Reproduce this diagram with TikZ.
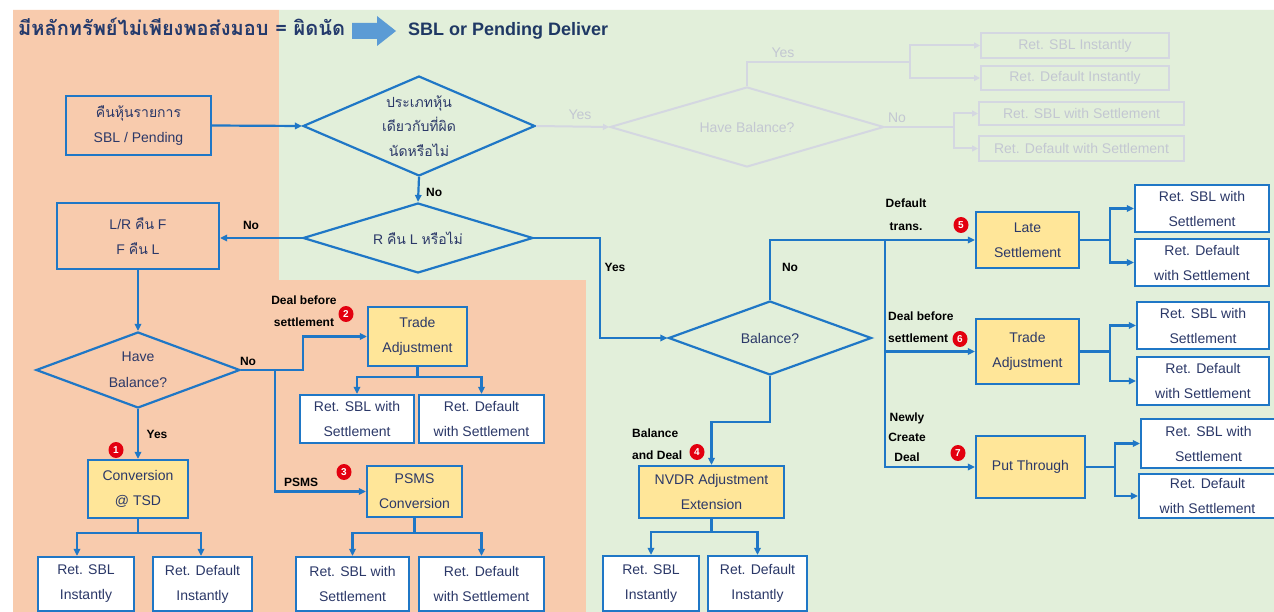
\documentclass[tikz,border=0pt]{standalone}
\usepackage{fontspec}
\setmainfont{Liberation Sans}
\newfontfamily\thai[Script=Thai]{Loma}
\usetikzlibrary{shapes.geometric,arrows.meta,calc}
\definecolor{salmon}{HTML}{F8CBAD}
\definecolor{lgreen}{HTML}{E2EFDA}
\definecolor{lblue}{HTML}{1F77C6}
\definecolor{yel}{HTML}{FFE699}
\definecolor{ntext}{HTML}{2B3868}
\definecolor{ttl}{HTML}{243A6C}
\definecolor{ttlb}{HTML}{1F3864}
\definecolor{barrow}{HTML}{5B9BD5}
\definecolor{bred}{HTML}{E3000F}
\definecolor{fcol}{HTML}{D4D7E1}
\definecolor{ftext}{HTML}{C3C7D2}
\newcommand\bxfont{\fontsize{14}{25}\selectfont}
\newcommand\lbfont{\bfseries\fontsize{12}{22}\selectfont}
\newcommand\bgfont{\bfseries\fontsize{10}{11}\selectfont}
\newcommand\fbxfont{\fontsize{14}{16}\selectfont}
\tikzset{
 ln/.style={draw=lblue, line width=2.2pt},
 arr/.style={ln, -{Triangle[length=7pt,width=6.5pt]}},
 bx/.style={draw=lblue, line width=2.2pt, inner sep=0pt, align=center, font=\bxfont, text=ntext},
 wbx/.style={bx, fill=white},
 ybx/.style={bx, fill=yel},
 dia/.style={diamond, draw=lblue, line width=2.2pt, inner sep=0pt},
 txt/.style={inner sep=0pt, align=center, font=\bxfont, text=ntext},
 lbl/.style={font=\lbfont, text=black, inner sep=0pt, align=center},
 badge/.style={ellipse, fill=bred, text=white, font=\bgfont, inner sep=0pt, minimum width=15pt, minimum height=16pt},
 fline/.style={draw=fcol, line width=2pt},
 farr/.style={fline, -{Triangle[length=6pt,width=6pt]}},
 fbx/.style={draw=fcol, line width=2pt, inner sep=0pt, text=ftext, font=\fbxfont},
 fdia/.style={diamond, draw=fcol, line width=2pt, inner sep=0pt},
 flbl/.style={font=\fbxfont, text=ftext, inner sep=0pt},
}
\begin{document}
\begin{tikzpicture}[x=1pt,y=-1pt]
\useasboundingbox (0,0) rectangle (1274,612);
\fill[white] (0,0) rectangle (1274,612);
% backgrounds
\fill[salmon] (13,10) -- (279,10) -- (279,280) -- (586,280) -- (586,612) -- (13,612) -- cycle;
\fill[lgreen] (279,10) -- (1274,10) -- (1274,612) -- (586,612) -- (586,280) -- (279,280) -- cycle;
% title
\node[anchor=west, inner sep=0pt, font=\thai\bfseries\fontsize{20}{22}\selectfont, text=ttl] (title) at (18,27) {มีหลักทรัพย์ไม่เพียงพอส่งมอบ = ผิดนัด};
\fill[barrow] (352,23) -- (377,23) -- (377,16) -- (396,31) -- (377,46) -- (377,39) -- (352,39) -- cycle;
\node[anchor=west, inner sep=0pt, font=\bfseries\fontsize{18}{20}\selectfont, text=ttlb] (sub) at (408,31) {SBL or Pending Deliver};

% faint branch
\node[fdia, minimum width=274, minimum height=80] (fd) at (747,127) {};
\node[flbl] (fdt) at (fd.center) {Have Balance?};
\node[fbx, minimum width=188, minimum height=25] (fr1) at (1075,45.5) {Ret. SBL Instantly};
\node[fbx, minimum width=188, minimum height=24] (fr2) at (1075,78) {Ret. Default Instantly};
\node[fbx, minimum width=205, minimum height=23] (fr3) at (1081.5,113.5) {Ret. SBL with Settlement};
\node[fbx, minimum width=205, minimum height=25] (fr4) at (1081.5,148.5) {Ret. Default with Settlement};
\coordinate (fj1) at (910,62);
\coordinate (fj2) at (954,127);

% main nodes
\node[bx, minimum width=145, minimum height=59] (a) at (138.5,125.5) {{\thai คืนหุ้นรายการ}\\SBL / Pending};
\node[dia, minimum width=232, minimum height=100] (d1) at (419,126) {};
\node[txt, font=\thai\fontsize{14}{24.5}\selectfont] (d1t) at (d1.center) {ประเภทหุ้น\\เดียวกับที่ผิด\\นัดหรือไม่};
\node[dia, minimum width=230, minimum height=70] (d2) at (418,238) {};
\node[txt] (d2t) at (d2.center) {R {\thai คืน} L {\thai หรือไม่}};
\node[bx, minimum width=162, minimum height=66] (lr) at (138,236) {L/R {\thai คืน} F\\F {\thai คืน} L};
\node[dia, minimum width=204, minimum height=76] (d3) at (138,370) {};
\node[txt, font=\fontsize{14}{26}\selectfont] (d3t) at (d3.center) {Have\\Balance?};
\node[ybx, minimum width=99, minimum height=59] (ta1) at (417.5,336.5) {Trade\\Adjustment};
\node[wbx, minimum width=114, minimum height=48] (r1) at (357,419) {Ret. SBL with\\Settlement};
\node[wbx, minimum width=125, minimum height=48] (r2) at (481.5,419) {Ret. Default\\with Settlement};
\node[ybx, minimum width=100, minimum height=58] (conv) at (138,489) {Conversion\\@ TSD};
\node[wbx, minimum width=96, minimum height=54] (rsi) at (86,584) {Ret. SBL\\Instantly};
\node[wbx, minimum width=99, minimum height=54] (rdi) at (202.5,584) {Ret. Default\\Instantly};
\node[ybx, minimum width=95, minimum height=51] (psms) at (414.5,491.5) {PSMS\\Conversion};
\node[wbx, minimum width=113, minimum height=54] (r3) at (352.5,584) {Ret. SBL with\\Settlement};
\node[wbx, minimum width=125, minimum height=54] (r4) at (481.5,584) {Ret. Default\\with Settlement};
\node[dia, minimum width=203, minimum height=74] (bal) at (770,338) {};
\node[txt] (balt) at (bal.center) {Balance?};
\node[ybx, minimum width=145, minimum height=52] (nvdr) at (711.5,492) {NVDR Adjustment\\Extension};
\node[wbx, minimum width=96, minimum height=55] (rsi2) at (651,583.5) {Ret. SBL\\Instantly};
\node[wbx, minimum width=99, minimum height=55] (rdi2) at (757.5,583.5) {Ret. Default\\Instantly};
\node[ybx, minimum width=103, minimum height=56] (ls) at (1027.5,240) {Late\\Settlement};
\node[ybx, minimum width=103, minimum height=65] (ta2) at (1027.5,351.5) {Trade\\Adjustment};
\node[ybx, minimum width=109, minimum height=62] (pt) at (1030.5,467) {Put Through};
\node[wbx, minimum width=134, minimum height=47] (r5a) at (1202,208.5) {Ret. SBL with\\Settlement};
\node[wbx, minimum width=134, minimum height=47] (r5b) at (1202,262.5) {Ret. Default\\with Settlement};
\node[wbx, minimum width=132, minimum height=47] (r6a) at (1203,325.5) {Ret. SBL with\\Settlement};
\node[wbx, minimum width=132, minimum height=48] (r6b) at (1203,381) {Ret. Default\\with Settlement};
\node[wbx, minimum width=135, minimum height=49] (r7a) at (1208.5,443.5) {Ret. SBL with\\Settlement};
\node[wbx, minimum width=137, minimum height=44] (r7b) at (1207.5,496) {Ret. Default\\with Settlement};

% junction coordinates
\coordinate (jy) at (600,238);
\coordinate (j3) at (303,370);
\coordinate (j3b) at (275,370);
\coordinate (t1j) at (417.5,377);
\coordinate (cj) at (138,533);
\coordinate (pj) at (414.5,533);
\coordinate (bj) at (770,422);
\coordinate (nj) at (711.5,532);
\coordinate (rj) at (885,240);
\coordinate (lsj) at (1110,240);
\coordinate (t2j) at (1110,351.5);
\coordinate (ptj) at (1115,467);

% faint connectors
\draw[farr] (d1.east) -- (fd.west);
\draw[fline] (fd.north) |- (fj1);
\draw[farr] (fj1) |- (fr1.west);
\draw[farr] (fj1) |- (fr2.west);
\draw[fline] (fd.east) -- (fj2);
\draw[farr] (fj2) |- (fr3.west);
\draw[farr] (fj2) |- (fr4.west);
\node[flbl] (fy1) at (580,115) {Yes};
\node[flbl] (fy2) at (783,53) {Yes};
\node[flbl] (fn1) at (897,118) {No};

% main connectors
\draw[arr] (a.east) -- (d1.west);
\draw[arr] (d1.south) -- (d2.north);
\draw[arr] (d2.west) -- (d2.west -| lr.east);
\draw[arr] (d2.east) -- (jy) |- (bal.west);
\draw[arr] (lr.south) -- (d3.north);
\draw[arr] (d3.east) -- (j3) |- (ta1.west);
\draw[arr] (j3b) |- (psms.west);
\draw[arr] (d3.south) -- (conv.north);
\draw[ln] (ta1.south) -- (t1j);
\draw[arr] (t1j) -| (r1.north);
\draw[arr] (t1j) -| (r2.north);
\draw[ln] (conv.south) -- (cj);
\draw[arr] (cj) -| ([xshift=-9pt]rsi.north);
\draw[arr] (cj) -| ([xshift=-1.5pt]rdi.north);
\draw[ln] (psms.south) -- (pj);
\draw[arr] (pj) -| (r3.north);
\draw[arr] (pj) -| (r4.north);
\draw[arr] (bal.south) -- (bj) -| (nvdr.north);
\draw[ln] (nvdr.south) -- (nj);
\draw[arr] (nj) -| (rsi2.north);
\draw[arr] (nj) -| (rdi2.north);
\draw[arr] (bal.north) |- (ls.west);
\draw[arr] (rj) |- (ta2.west);
\draw[arr] (rj) |- (pt.west);
\draw[ln] (ls.east) -- (lsj);
\draw[arr] (lsj) |- (r5a.west);
\draw[arr] (lsj) |- (r5b.west);
\draw[ln] (ta2.east) -- (t2j);
\draw[arr] (t2j) |- (r6a.west);
\draw[arr] (t2j) |- (r6b.west);
\draw[ln] (pt.east) -- (ptj);
\draw[arr] (ptj) |- (r7a.west);
\draw[arr] (ptj) |- (r7b.west);

% labels
\node[lbl, anchor=west] (l1) at (426,192) {No};
\node[lbl] (l2) at (251,225) {No};
\node[lbl] (l3) at (248,361) {No};
\node[lbl] (l4) at (304,311) {Deal before\\settlement};
\node[lbl] (l5) at (157,434) {Yes};
\node[lbl] (l6) at (301,482) {PSMS};
\node[lbl] (l7) at (615,267) {Yes};
\node[lbl] (l8) at (790,267) {No};
\node[lbl, font=\bfseries\fontsize{12}{23}\selectfont] (l9) at (906,214.5) {Default\\trans.};
\node[lbl, anchor=west, align=left] (l10) at (888,327) {Deal before\\settlement};
\node[lbl, anchor=west, align=left] (l11) at (632,444) {Balance\\and Deal};
\node[lbl, font=\bfseries\fontsize{12}{20}\selectfont] (l12) at (907,437) {Newly\\Create\\Deal};

% badges
\node[badge] (b1) at (116,450) {1};
\node[badge] (b2) at (346,314) {2};
\node[badge] (b3) at (344,472) {3};
\node[badge] (b4) at (697,452) {4};
\node[badge] (b5) at (961,225) {5};
\node[badge] (b6) at (960,339) {6};
\node[badge] (b7) at (958,453) {7};
\end{tikzpicture}
\end{document}
